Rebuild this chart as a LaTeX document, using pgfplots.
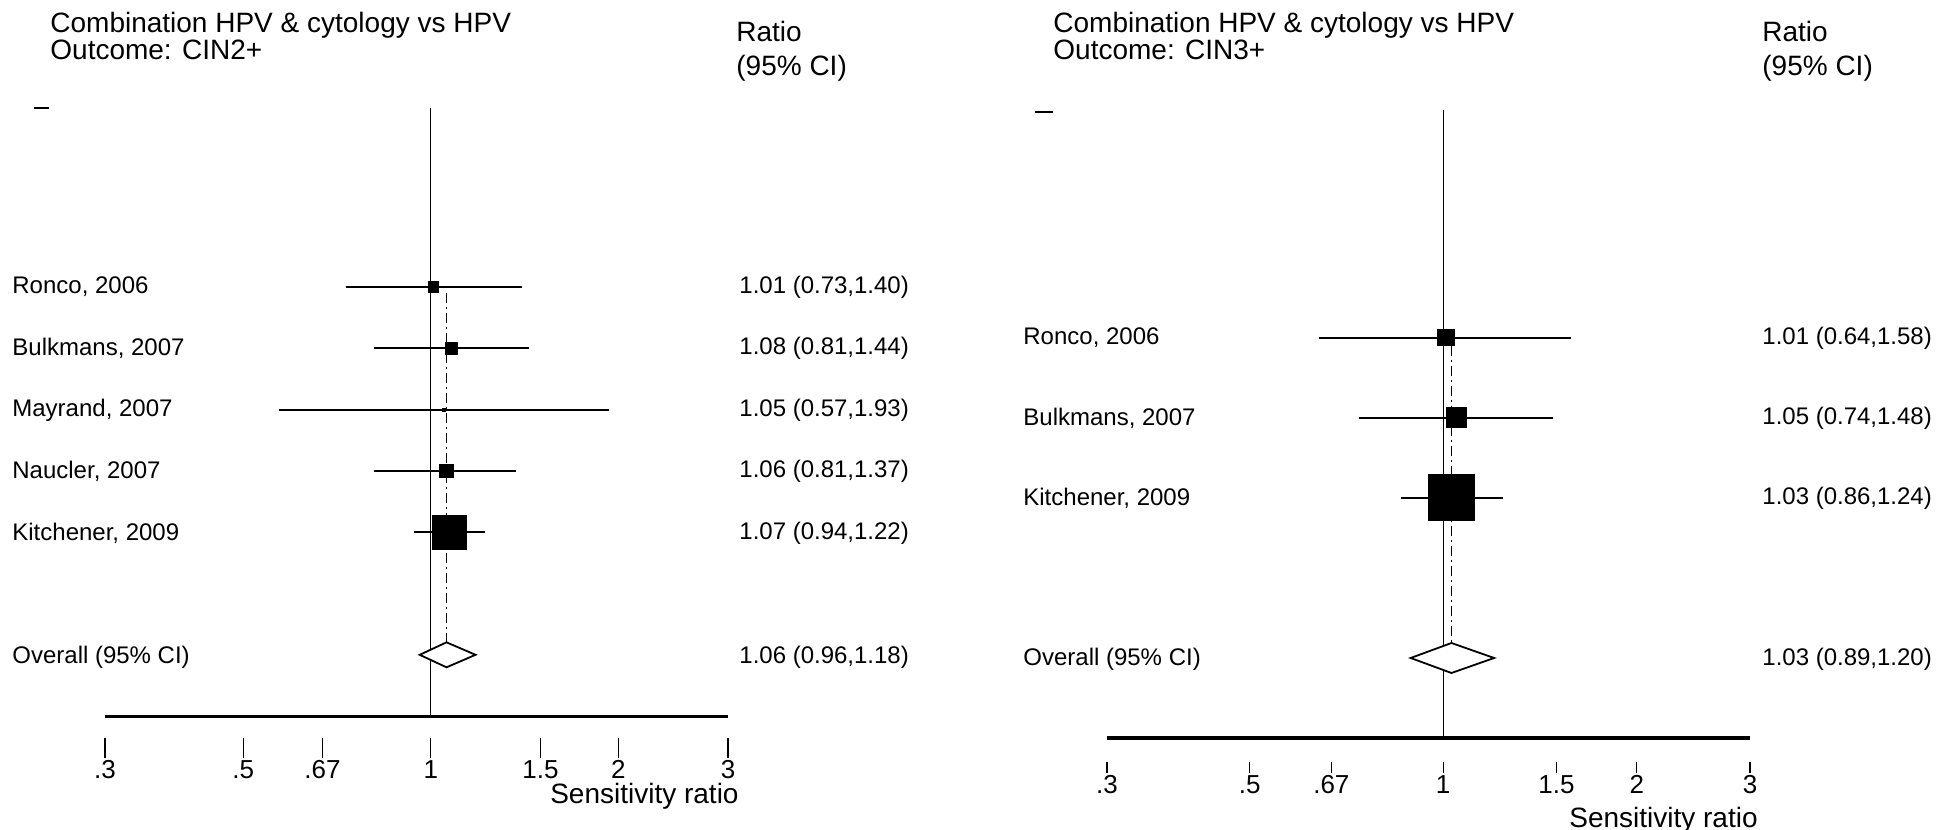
\documentclass[border=0pt]{standalone}
\usepackage{pgfplots}
\pgfplotsset{compat=1.18}
\usepackage{fontspec}
\setmainfont{Liberation Sans}

\newcommand{\ttl}{\fontsize{14}{14}\selectfont}
\newcommand{\lbl}{\fontsize{12}{12}\selectfont}

\pgfplotsset{
  ci/.style={black, line width=1pt, mark=none},
  sq/.style={only marks, mark=square*, mark options={fill=black, draw=black, line width=0pt}},
}

\begin{document}
\begin{tikzpicture}
\path[use as bounding box] (0,0) rectangle (970pt,415pt);

% ---------------- Left panel: CIN2+ ----------------
\begin{axis}[
  scale only axis,
  xmode=log, xmin=0.3, xmax=3,
  hide y axis,
  axis x line*=bottom,
  x axis line style={draw=none},
  xtick={0.3,0.5,0.67,1,1.5,2,3},
  xticklabels={.3,.5,.67,1,1.5,2,3},
  tick align=outside,
  tick style={black, line width=0.6pt},
  xticklabel style={font=\fontsize{13}{13}\selectfont, inner sep=1pt},
  clip=false,
  at={(52.5pt,46pt)}, anchor=south west,
  width=311.5pt, height=315pt,
  ymin=-8.357, ymax=1.92,
  major tick length=10pt,
]
% reference line and axis line
\addplot[black, line width=0.7pt] coordinates {(1,1.92) (1,-8)};
\addplot[black, line width=1.6pt] coordinates {(0.3,-8) (3,-8)};
% overall estimate dashed line
\addplot[black, line width=0.7pt, dash pattern=on 5pt off 2pt on 1pt off 2pt] coordinates {(1.06,-1.1) (1.06,-6.8)};
% confidence intervals
\addplot[ci] coordinates {(0.73,-1) (1.40,-1)};
\addplot[ci] coordinates {(0.81,-2) (1.44,-2)};
\addplot[ci] coordinates {(0.57,-3) (1.93,-3)};
\addplot[ci] coordinates {(0.81,-4) (1.37,-4)};
\addplot[ci] coordinates {(0.94,-5) (1.22,-5)};
% point estimates (weighted squares)
\addplot[sq, mark size=2.7pt] coordinates {(1.01,-1)};
\addplot[sq, mark size=3pt]   coordinates {(1.08,-2)};
\addplot[sq, mark size=0.8pt] coordinates {(1.05,-3)};
\addplot[sq, mark size=3.3pt] coordinates {(1.06,-4)};
\addplot[sq, mark size=8.5pt] coordinates {(1.07,-5)};
% overall diamond
\addplot[black, line width=0.9pt, fill=white] coordinates {(0.96,-7) (1.06,-6.796) (1.18,-7) (1.06,-7.204) (0.96,-7)} -- cycle;
\end{axis}

% ---------------- Right panel: CIN3+ ----------------
\begin{axis}[
  scale only axis,
  xmode=log, xmin=0.3, xmax=3,
  hide y axis,
  axis x line*=bottom,
  x axis line style={draw=none},
  xtick={0.3,0.5,0.67,1,1.5,2,3},
  xticklabels={.3,.5,.67,1,1.5,2,3},
  tick align=outside,
  tick style={black, line width=0.6pt},
  xticklabel style={font=\fontsize{13}{13}\selectfont, inner sep=1pt},
  clip=false,
  at={(553.5pt,34pt)}, anchor=south west,
  width=321.5pt, height=326pt,
  ymin=-6.3, ymax=1.85,
  major tick length=5.5pt,
]
\addplot[black, line width=0.7pt] coordinates {(1,1.85) (1,-6)};
\addplot[black, line width=1.6pt] coordinates {(0.3,-6) (3,-6)};
\addplot[black, line width=0.7pt, dash pattern=on 5pt off 2pt on 1pt off 2pt] coordinates {(1.03,-1.1) (1.03,-4.81)};
\addplot[ci, line width=1.3pt] coordinates {(0.64,-1) (1.58,-1)};
\addplot[ci, line width=1.3pt] coordinates {(0.74,-2) (1.48,-2)};
\addplot[ci, line width=1.3pt] coordinates {(0.86,-3) (1.24,-3)};
\addplot[sq, mark size=4pt]    coordinates {(1.01,-1)};
\addplot[sq, mark size=5pt]    coordinates {(1.05,-2)};
\addplot[sq, mark size=11.5pt] coordinates {(1.03,-3)};
\addplot[black, line width=0.9pt, fill=white] coordinates {(0.89,-5) (1.03,-4.8125) (1.20,-5) (1.03,-5.1875) (0.89,-5)} -- cycle;
\end{axis}

% ---------------- Text (pixel coordinates) ----------------
\begin{scope}[x=0.5pt, y=-0.5pt, shift={(0pt,415pt)}]
% left panel
\node[anchor=west, inner sep=0, font=\ttl] at (50,25) {Combination HPV \& cytology vs HPV};
\node[anchor=west, inner sep=0, font=\ttl] at (50,50) {Outcome: CIN2+};
\node[anchor=west, inner sep=0, font=\ttl] at (736,32) {Ratio};
\node[anchor=west, inner sep=0, font=\ttl] at (736,68) {(95\% CI)};
\draw[line width=1.2pt] (34,108) -- (49,108);
\foreach \y/\t in {287/{Ronco, 2006}, 348/{Bulkmans, 2007}, 410/{Mayrand, 2007}, 471/{Naucler, 2007}, 533/{Kitchener, 2009}, 657/{Overall (95\% CI)}}
  \node[anchor=west, inner sep=0, font=\lbl] at (12,\y) {\t};
\foreach \y/\t in {287/{1.01 (0.73,1.40)}, 348/{1.08 (0.81,1.44)}, 410/{1.05 (0.57,1.93)}, 471/{1.06 (0.81,1.37)}, 533/{1.07 (0.94,1.22)}, 657/{1.06 (0.96,1.18)}}
  \node[anchor=west, inner sep=0, font=\lbl] at (739,\y) {\t};
\node[anchor=east, inner sep=0, font=\ttl] at (739,796) {Sensitivity ratio};
% right panel
\node[anchor=west, inner sep=0, font=\ttl] at (1053,25) {Combination HPV \& cytology vs HPV};
\node[anchor=west, inner sep=0, font=\ttl] at (1053,50) {Outcome: CIN3+};
\node[anchor=west, inner sep=0, font=\ttl] at (1762,32) {Ratio};
\node[anchor=west, inner sep=0, font=\ttl] at (1762,68) {(95\% CI)};
\draw[line width=1.2pt] (1035,112) -- (1053,112);
\foreach \y/\t in {338/{Ronco, 2006}, 418/{Bulkmans, 2007}, 498/{Kitchener, 2009}, 659/{Overall (95\% CI)}}
  \node[anchor=west, inner sep=0, font=\lbl] at (1023,\y) {\t};
\foreach \y/\t in {338/{1.01 (0.64,1.58)}, 418/{1.05 (0.74,1.48)}, 498/{1.03 (0.86,1.24)}, 659/{1.03 (0.89,1.20)}}
  \node[anchor=west, inner sep=0, font=\lbl] at (1762,\y) {\t};
\node[anchor=east, inner sep=0, font=\ttl] at (1758,820) {Sensitivity ratio};
\end{scope}
\end{tikzpicture}
\end{document}
